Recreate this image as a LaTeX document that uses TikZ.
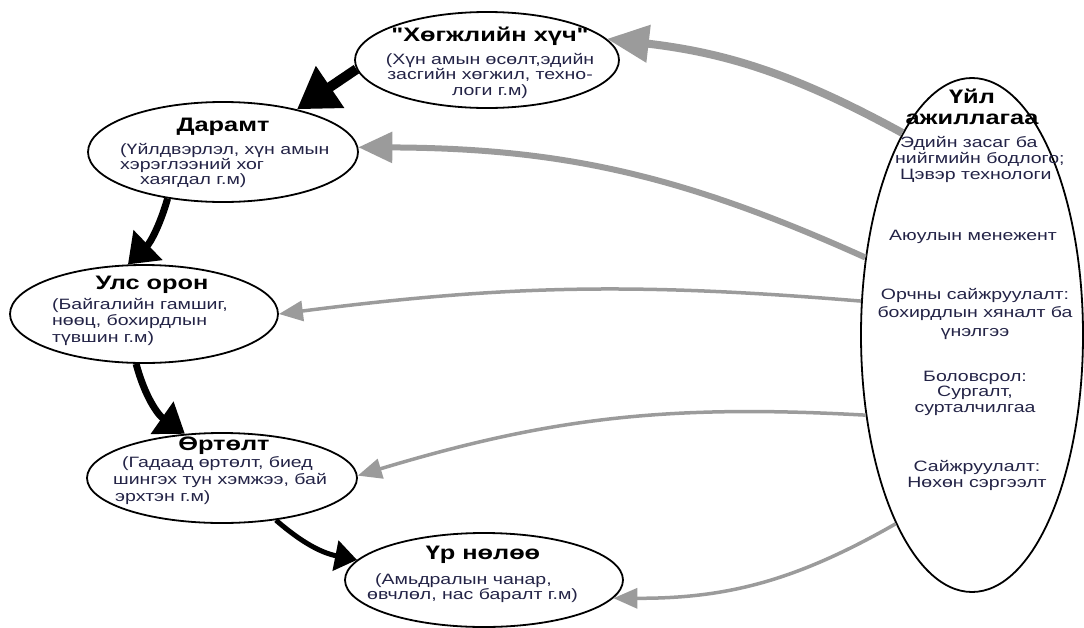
\documentclass[tikz,border=0pt]{standalone}
\usepackage{fontspec}
\setmainfont{Liberation Sans}[FakeStretch=1.3,Ligatures=TeXOff]
\usetikzlibrary{arrows.meta,shapes.geometric}
\definecolor{txt}{RGB}{35,35,70}
\definecolor{gr}{RGB}{155,155,155}
\begin{document}
\begin{tikzpicture}[x=1pt,y=-1pt,
  ell/.style={draw=black,ellipse,line width=1.8pt,inner sep=0pt},
  ttl/.style={font=\bfseries\fontsize{19.5}{21}\selectfont,inner sep=0pt,anchor=base},
  bod/.style={font=\fontsize{15}{#1}\selectfont,text=txt,inner sep=0pt,anchor=base west,align=left},
  bodc/.style={bod=#1,anchor=base,align=center},
  blk/.style={draw=black,line width=#1},
  gry/.style={draw=gr,line width=#1},
]
\useasboundingbox (0,0) rectangle (1084,627);
% ellipses
\node[ell,minimum width=264pt,minimum height=96pt] (e1) at (487,60) {};
\node[ell,minimum width=270pt,minimum height=100pt] (e2) at (223,152) {};
\node[ell,minimum width=268pt,minimum height=98pt] (e3) at (144,314) {};
\node[ell,minimum width=270pt,minimum height=90pt] (e4) at (222,478) {};
\node[ell,minimum width=278pt,minimum height=94pt] (e5) at (484,580) {};
\node[ell,minimum width=222pt,minimum height=514pt] (b) at (972,335) {};
% texts (multi-line nodes: base = baseline of last line)
\node[ttl] (t1) at (490,41) {"Хөгжлийн хүч"};
\node[bodc=15.5] (x1) at (490,95) {(Хүн амын өсөлт,эдийн\\засгийн хөгжил, техно-\\логи г.м)};
\node[ttl] (t2) at (223,131) {Дарамт};
\node[bod=15] (x2) at (120,184) {(Үйлдвэрлэл, хүн амын\\хэрэглээний хог\\\hspace*{20pt}хаягдал г.м)};
\node[ttl] (t3) at (152,289) {Улс орон};
\node[bod=16.5] (x3) at (52,342) {(Байгалийн гамшиг,\\нөөц, бохирдлын\\түвшин г.м)};
\node[ttl] (t4) at (224,450) {Өртөлт};
\node[bod=17] (x4) at (113,501) {\hspace*{9pt}(Гадаад өртөлт, биед\\шингэх тун хэмжээ, бай\\\hspace*{2pt}эрхтэн г.м)};
\node[ttl] (t5) at (483,559) {Үр нөлөө};
\node[bod=15] (x5) at (367,599) {\hspace*{8pt}(Амьдралын чанар,\\өвчлөл, нас баралт г.м)};
\node[ttl,align=center] (tb) at (972,124) {Үйл\\ажиллагаа};
\node[bod=16] (b1) at (895,179) {\hspace*{5pt}Эдийн засаг ба\\нийгмийн бодлого;\\\hspace*{5pt}Цэвэр технологи};
\node[bodc=16] (b2) at (973,240) {Аюулын менежент};
\node[bodc=18.5] (b3) at (975,336) {Орчны сайжруулалт:\\бохирдлын хяналт ба\\үнэлгээ};
\node[bodc=15.5] (b4) at (975,412) {Боловсрол:\\Сургалт,\\сурталчилгаа};
\node[bodc=15.5] (b5) at (977,487) {Сайжруулалт:\\Нөхөн сэргээлт};
% black arrows
\draw[blk=10pt,-{Triangle[length=40pt,width=48pt]}] (e1.184) -- (e2.30);
\draw[blk=7pt,-{Triangle[length=28pt,width=40pt]}] (e2.220) to[bend left=15] (e3.108);
\draw[blk=7pt,-{Triangle[length=28pt,width=38pt]}] (e3.261) to[bend right=20] (e4.130);
\draw[blk=5pt,-{Triangle[length=22pt,width=30pt]}] (e4.322) to[bend right=15] (e5.171);
% grey arrows
\draw[gry=8pt,-{Triangle[length=42pt,width=36pt]}] (b.109) to[bend right=11] (e1.10);
\draw[gry=6pt,-{Triangle[length=34pt,width=30pt]}] (b.144) to[bend right=12] (e2.2);
\draw[gry=3.5pt,-{Triangle[length=24pt,width=20pt]}] (b.163) to[bend right=6] (e3.0);
\draw[gry=3.5pt,-{Triangle[length=24pt,width=20pt]}] (b.217) to[bend right=10] (e4.1);
\draw[gry=3.5pt,-{Triangle[length=24pt,width=20pt]}] (b.248) to[bend left=15] (e5.352);
\end{tikzpicture}
\end{document}
